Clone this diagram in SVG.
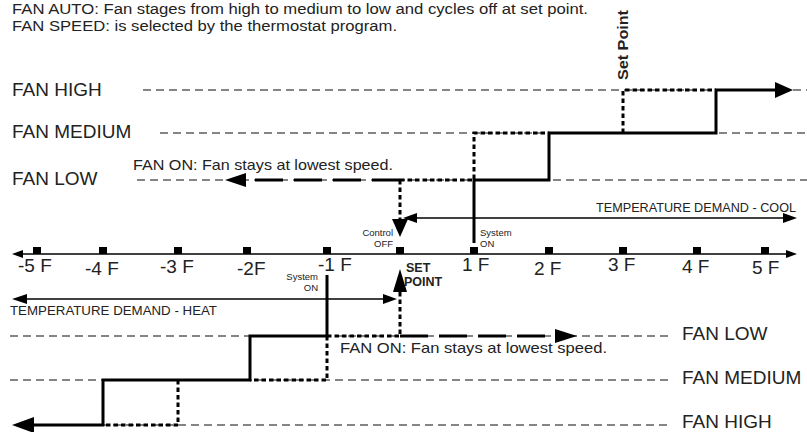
<svg xmlns="http://www.w3.org/2000/svg" width="807" height="432" viewBox="0 0 807 432">
<style>
text{font-family:"Liberation Sans",Arial,sans-serif;fill:#222}
.big{font-size:19px}
.note{font-size:14px}
.mid{font-size:15px}
.dem{font-size:13px}
.tiny{font-size:9.5px}
.bold{font-weight:bold}
.grid{stroke:#858585;stroke-width:1.8;stroke-dasharray:8,5;fill:none}
.solid{stroke:#000;stroke-width:3;fill:none}
.dot{stroke:#000;stroke-width:3;stroke-dasharray:4.5,3;fill:none}
.dash{stroke:#000;stroke-width:3;stroke-dasharray:28,11;fill:none}
.thin{stroke:#000;stroke-width:1.3;fill:none}
.head{fill:#000}
.tick{fill:#000}
</style>
<rect width="807" height="432" fill="#fff"/>

<g id="header">
<text class="note" x="12" y="14" textLength="576" lengthAdjust="spacingAndGlyphs">FAN AUTO:  Fan stages from high to medium to low and cycles off at set point.</text>
<text class="note" x="12" y="31" textLength="385" lengthAdjust="spacingAndGlyphs">FAN SPEED: is selected by the thermostat program.</text>
</g>

<g id="cool-levels">
<text class="big" x="12" y="96">FAN HIGH</text>
<text class="big" x="12" y="138">FAN MEDIUM</text>
<text class="big" x="12" y="185">FAN LOW</text>
<line class="grid" x1="143" y1="90" x2="807" y2="90"/>
<line class="grid" x1="160" y1="133" x2="807" y2="133"/>
<line class="grid" x1="137" y1="180" x2="807" y2="180"/>
</g>

<g id="heat-levels">
<line class="grid" x1="10" y1="336" x2="672" y2="336"/>
<line class="grid" x1="10" y1="380" x2="672" y2="380"/>
<line class="grid" x1="35" y1="425" x2="672" y2="425"/>
<text class="big" x="682" y="340">FAN LOW</text>
<text class="big" x="682" y="384">FAN MEDIUM</text>
<text class="big" x="682" y="428">FAN HIGH</text>
</g>

<g id="axis">
<line class="thin" x1="20" y1="254" x2="789" y2="254"/>
<polygon class="head" points="12,254 23,250 23,258"/>
<polygon class="head" points="797,254 786,250 786,258"/>
<rect class="tick" x="33" y="247" width="8" height="7"/>
<rect class="tick" x="99" y="247" width="8" height="7"/>
<rect class="tick" x="174" y="247" width="8" height="7"/>
<rect class="tick" x="243" y="247" width="8" height="7"/>
<rect class="tick" x="323" y="247" width="8" height="7"/>
<rect class="tick" x="396" y="247" width="8" height="7"/>
<rect class="tick" x="470" y="247" width="8" height="7"/>
<rect class="tick" x="545" y="247" width="8" height="7"/>
<rect class="tick" x="619" y="247" width="8" height="7"/>
<rect class="tick" x="693" y="247" width="8" height="7"/>
<rect class="tick" x="761" y="247" width="8" height="7"/>
<text class="big" x="18" y="272">-5 F</text>
<text class="big" x="85" y="275">-4 F</text>
<text class="big" x="160" y="273">-3 F</text>
<text class="big" x="237" y="275">-2F</text>
<text class="big" x="318" y="271">-1 F</text>
<text class="big" x="462" y="271">1 F</text>
<text class="big" x="534" y="275">2 F</text>
<text class="big" x="608" y="271">3 F</text>
<text class="big" x="682" y="273">4 F</text>
<text class="big" x="752" y="274">5 F</text>
</g>

<g id="cool-demand">
<line class="thin" x1="412" y1="218" x2="788" y2="218"/>
<polygon class="head" points="403,218 417,213 417,223"/>
<polygon class="head" points="797,218 783,213 783,223"/>
<text class="dem" x="596" y="212" textLength="200" lengthAdjust="spacingAndGlyphs">TEMPERATURE DEMAND - COOL</text>
</g>

<g id="heat-demand">
<line class="thin" x1="22" y1="299" x2="388" y2="299"/>
<polygon class="head" points="12,299 27,294 27,304"/>
<polygon class="head" points="397,299 383,294 383,304"/>
<text class="dem" x="10" y="315" textLength="207" lengthAdjust="spacingAndGlyphs">TEMPERATURE DEMAND - HEAT</text>
</g>

<g id="connectors">
<!-- cooling -->
<path class="solid" d="M474,243 V180 H549 V133 H716 V90 H778"/>
<polygon class="head" points="793,90 775,82 775,98"/>
<path class="dot" d="M400,180 H474 V133 H549"/>
<path class="dot" d="M623,133 V90 H716"/>
<path class="dot" d="M400,180 V222"/>
<polygon class="head" points="392,219 408,219 400,237"/>
<path class="dash" d="M400,180 H240"/>
<polygon class="head" points="225,180 246,173 246,187"/>
<!-- heating -->
<path class="solid" d="M327,275 V336 H250 V380 H103 V425 H30"/>
<polygon class="head" points="12,425 34,417 34,433"/>
<path class="dot" d="M327,336 H400"/>
<path class="dot" d="M327,336 V380 H250"/>
<path class="dot" d="M178,380 V425 H103"/>
<path class="dot" d="M400,292 V336"/>
<polygon class="head" points="400,269 393,292 407,292"/>
<path class="dash" d="M400,336 H560"/>
<polygon class="head" points="577,336 555,329 555,343"/>
</g>

<g id="annotations">
<text class="bold" font-size="15" transform="translate(628,45) rotate(-90)" text-anchor="middle" textLength="70" lengthAdjust="spacingAndGlyphs">Set Point</text>
<text class="mid" x="133" y="170" textLength="260" lengthAdjust="spacingAndGlyphs">FAN ON: Fan stays at lowest speed.</text>
<text class="mid" x="340" y="353" textLength="267" lengthAdjust="spacingAndGlyphs">FAN ON: Fan stays at lowest speed.</text>
<text class="tiny" x="393" y="236" text-anchor="end">Control</text>
<text class="tiny" x="393" y="247" text-anchor="end">OFF</text>
<text class="tiny" x="480" y="236">System</text>
<text class="tiny" x="480" y="247">ON</text>
<text class="tiny" x="318" y="280" text-anchor="end">System</text>
<text class="tiny" x="318" y="291" text-anchor="end">ON</text>
<text class="bold" font-size="12.5" x="406" y="272">SET</text>
<text class="bold" font-size="12.5" x="404" y="286">POINT</text>
</g>
</svg>
